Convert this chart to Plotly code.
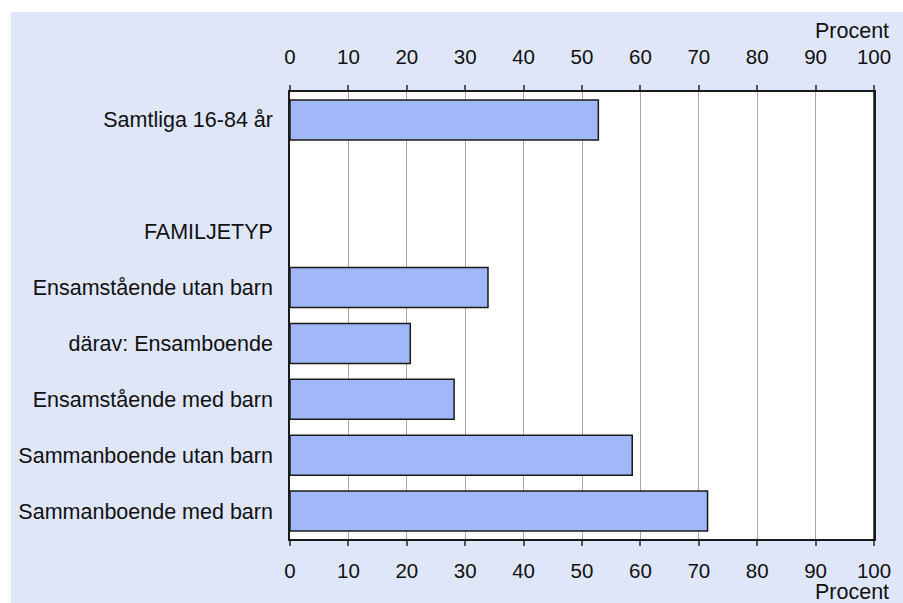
import plotly.graph_objects as go

categories = ["Samtliga 16-84 år", " ", "FAMILJETYP", "Ensamstående utan barn",
              "därav: Ensamboende", "Ensamstående med barn",
              "Sammanboende utan barn", "Sammanboende med barn"]
values = [52.8, None, None, 33.9, 20.6, 28.1, 58.6, 71.5]
x_ticks = [0, 10, 20, 30, 40, 50, 60, 70, 80, 90, 100]
axis_title = "Procent"

BG = "#dfe6fa"
FONT = "Liberation Sans, Arial, sans-serif"
TXT = 21.5

fig = go.Figure()
fig.add_trace(go.Bar(
    y=categories, x=values, orientation="h", width=0.715,
    marker=dict(color="#a0b8f8", line=dict(color="#1a1a1a", width=1.5)),
    xaxis="x", yaxis="y", showlegend=False, hoverinfo="x+y",
))
fig.add_trace(go.Scatter(
    y=[categories[0]], x=[0], mode="markers", marker=dict(opacity=0),
    xaxis="x2", yaxis="y", showlegend=False, hoverinfo="skip",
))

common_x = dict(
    range=[0, 100], tickvals=x_ticks, ticktext=[str(t) for t in x_ticks],
    ticks="outside", ticklen=5, tickcolor="#555555", tickwidth=1.5,
    showline=True, linecolor="#1a1a1a", linewidth=1.5,
    zeroline=False, tickfont=dict(family=FONT, size=20.5, color="#111111"),
)

# plot area in pixels: x 290..880, y 92..539
fig.update_layout(
    width=903, height=603,
    margin=dict(l=290, r=23, t=92, b=64),
    paper_bgcolor=BG, plot_bgcolor="white",
    font=dict(family=FONT, size=TXT, color="#111111"),
    xaxis=dict(side="top", ticklabelstandoff=13, showgrid=True,
               gridcolor="#a8a8a8", gridwidth=1, **common_x),
    xaxis2=dict(side="bottom", overlaying="x", anchor="y", ticklabelstandoff=8,
                showgrid=False, **common_x),
    yaxis=dict(
        categoryorder="array", categoryarray=categories, autorange="reversed",
        showline=True, linecolor="#1a1a1a", linewidth=1.5, mirror=True,
        ticks="", showgrid=False, zeroline=False, ticklabelstandoff=11,
        tickfont=dict(family=FONT, size=TXT, color="#111111"),
    ),
    shapes=[
        dict(type="rect", xref="paper", yref="paper", x0=-0.6, x1=1.2,
             y0=1 + (92 - 12) / 447, y1=1.3, fillcolor="white", line_width=0, layer="above"),
        dict(type="rect", xref="paper", yref="paper", x0=-0.6, x1=(8 - 290) / 590,
             y0=-0.3, y1=1.3, fillcolor="white", line_width=0, layer="above"),
        dict(type="line", xref="paper", yref="paper", x0=1, x1=1, y0=0, y1=1,
             line=dict(color="#1a1a1a", width=1.5)),
    ],
    annotations=[
        dict(text=axis_title, xref="paper", yref="paper", x=(897 - 290) / 590,
             y=1 + (92 - 31.5) / 447, xanchor="right", yanchor="middle",
             showarrow=False, font=dict(family=FONT, size=TXT, color="#111111")),
        dict(text=axis_title, xref="paper", yref="paper", x=(897 - 290) / 590,
             y=(539 - 592) / 447, xanchor="right", yanchor="middle",
             showarrow=False, font=dict(family=FONT, size=TXT, color="#111111")),
    ],
)

fig.write_html(
    "out.html",
    config={"displayModeBar": False},
    post_script="document.body.style.margin='0';document.body.style.overflow='hidden';",
)
